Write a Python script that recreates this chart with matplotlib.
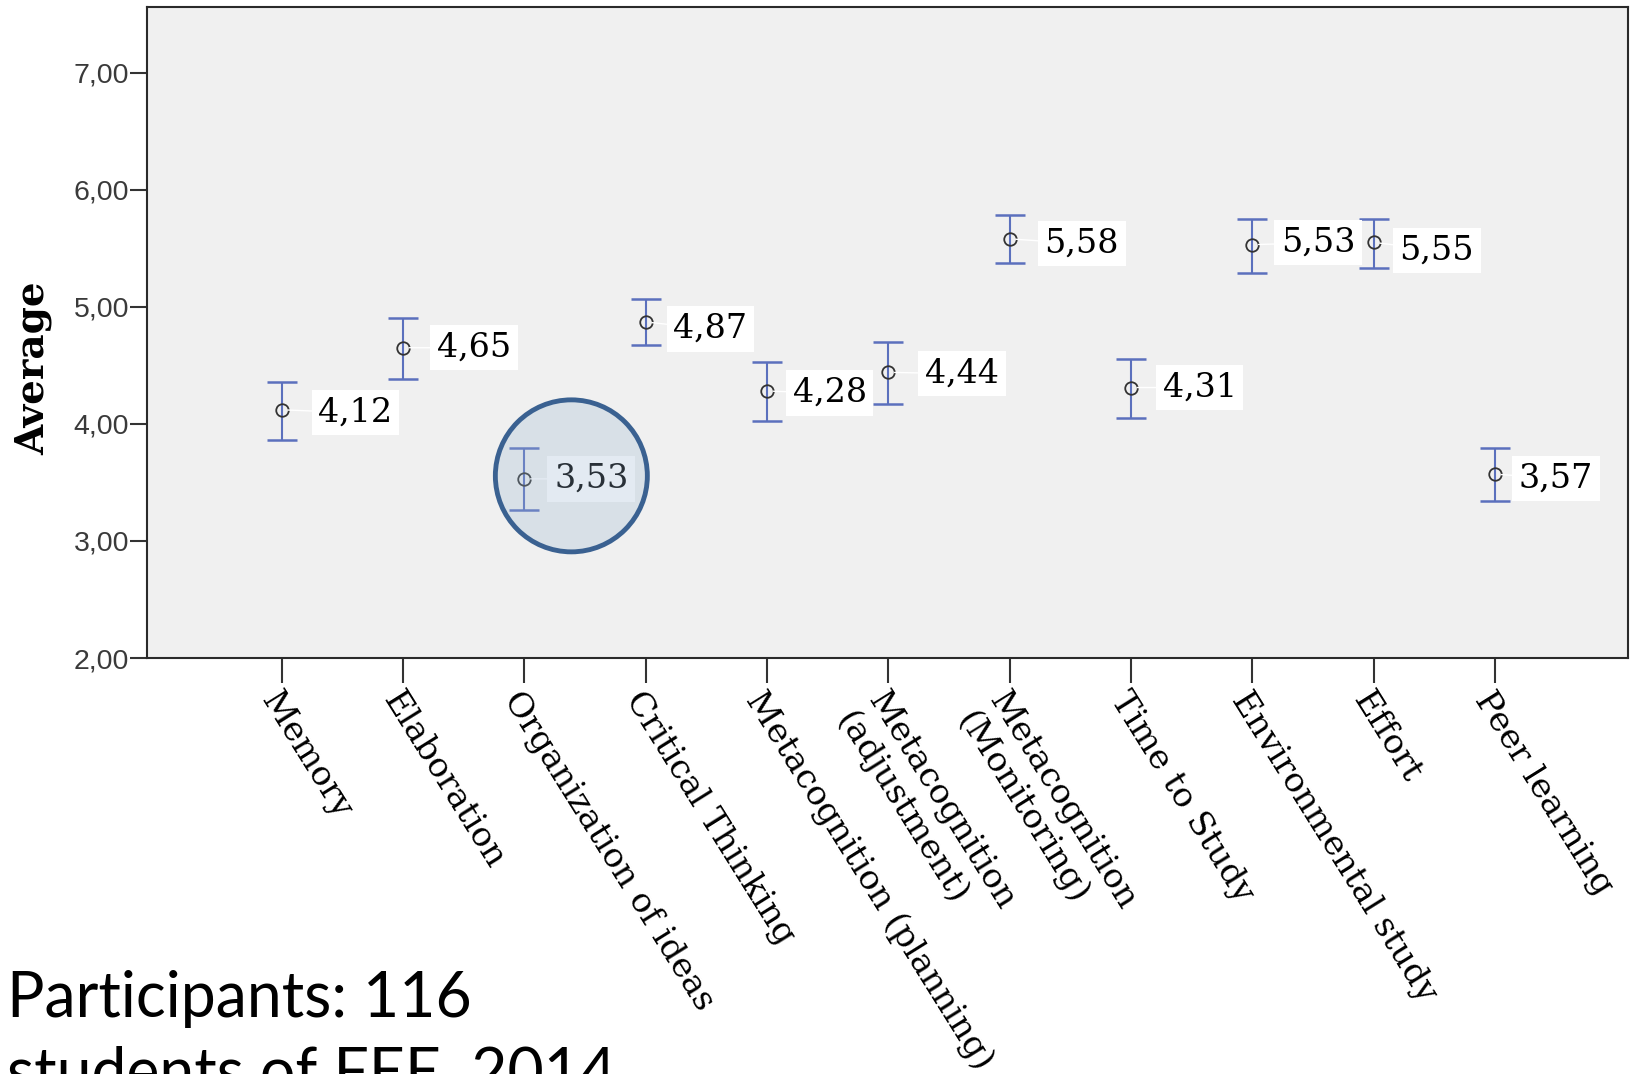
import matplotlib
matplotlib.use("Agg")
import matplotlib.pyplot as plt
from matplotlib.patches import Circle
from matplotlib.transforms import ScaledTranslation

# data
categories = ["Memory", "Elaboration", "Organization of ideas", "Critical Thinking",
              "Metacognition (planning)", "Metacognition\n(adjustment)",
              "Metacognition\n(Monitoring)", "Time to Study", "Environmental study",
              "Effort", "Peer learning"]
means = [4.12, 4.65, 3.53, 4.87, 4.28, 4.44, 5.58, 4.31, 5.53, 5.55, 3.57]
ci_low = [3.86, 4.38, 3.26, 4.67, 4.02, 4.17, 5.37, 4.05, 5.29, 5.33, 3.34]
ci_high = [4.36, 4.90, 3.79, 5.07, 4.53, 4.70, 5.78, 4.55, 5.75, 5.75, 3.79]
yticks = [2, 3, 4, 5, 6, 7]
highlight = 2  # Organization of ideas

# label box placement relative to each point (pixels: right, down)
box_dx = [30, 27, 23, 21, 19, 30, 28, 25, 22, 19, 17]
box_dy = [3, 0, 0, 7, 2, 1.5, 5, 0, -2, 8, 4]

fig = plt.figure(figsize=(16.3, 10.74), dpi=100)
ax = fig.add_axes([147 / 1630, (1074 - 658) / 1074, 1481 / 1630, 651 / 1074])
ax.set_facecolor("#f0f0f0")

x = list(range(len(categories)))
err = [[m - lo for m, lo in zip(means, ci_low)], [hi - m for m, hi in zip(means, ci_high)]]
ax.errorbar(x, means, yerr=err, fmt="none", ecolor="#5b70bd", elinewidth=1.5,
            capsize=10.5, capthick=1.8, zorder=2)
ax.plot(x, means, "o", ms=9, mfc="none", mec="#333333", mew=1.3, zorder=3)

fs_val = 24
pad_px = 0.2 * fs_val / 0.72
for i, m in enumerate(means):
    ax.annotate(f"{m:.2f}".replace(".", ","), xy=(i, m),
                xytext=((box_dx[i] + pad_px) * 0.72, -box_dy[i] * 0.72),
                textcoords="offset points", ha="left", va="center",
                fontsize=fs_val, family="DejaVu Serif", color="black",
                bbox=dict(boxstyle="square,pad=0.2", fc="white", ec="none"),
                arrowprops=dict(arrowstyle="-", color="white", lw=1,
                                shrinkA=0, shrinkB=4.5),
                zorder=4)

ax.set_xlim(-1.11, len(categories) - 1 + 1.096)
ax.set_ylim(2, 7.56)
ax.set_yticks(yticks)
ax.set_yticklabels([f"{v:.2f}".replace(".", ",") for v in yticks],
                   family="Liberation Sans", fontsize=20.5, color="#3a3a3a")
ax.set_xticks(x)
ax.set_xticklabels(categories, rotation=-58, ha="left", va="top",
                   rotation_mode="anchor", family="DejaVu Serif", fontsize=24.5)
shift = ScaledTranslation(-0.08, 0, fig.dpi_scale_trans)
for lab in ax.get_xticklabels():
    lab.set_transform(lab.get_transform() + shift)

ax.tick_params(axis="y", length=12, width=1.5, color="#333333", pad=1)
ax.tick_params(axis="x", length=18, width=1.5, color="#333333", pad=2)
for sp in ax.spines.values():
    sp.set_color("#2a2a2a")
    sp.set_linewidth(1.5)

ax.set_ylabel("Average", family="DejaVu Serif", fontweight="bold", fontsize=28)
ax.yaxis.set_label_coords(-0.064, 0.445)

# highlight circle around the lowest score
off = fig.dpi_scale_trans + ScaledTranslation(highlight, means[highlight], ax.transData)
ax.add_patch(Circle((0.47, 0.03), 0.76, transform=off, fc=(0.60, 0.71, 0.82, 0.27),
                    ec="#3a6191", lw=3.5, zorder=5, clip_on=False))

fig.text(7 / 1630, (1074 - 1017) / 1074, "Participants: 116", family="Lato",
         fontsize=45, va="baseline", ha="left")
fig.text(7 / 1630, (1074 - 1092) / 1074, "students of FEE, 2014", family="Lato",
         fontsize=45, va="baseline", ha="left")

fig.savefig("out.png", dpi=100)
